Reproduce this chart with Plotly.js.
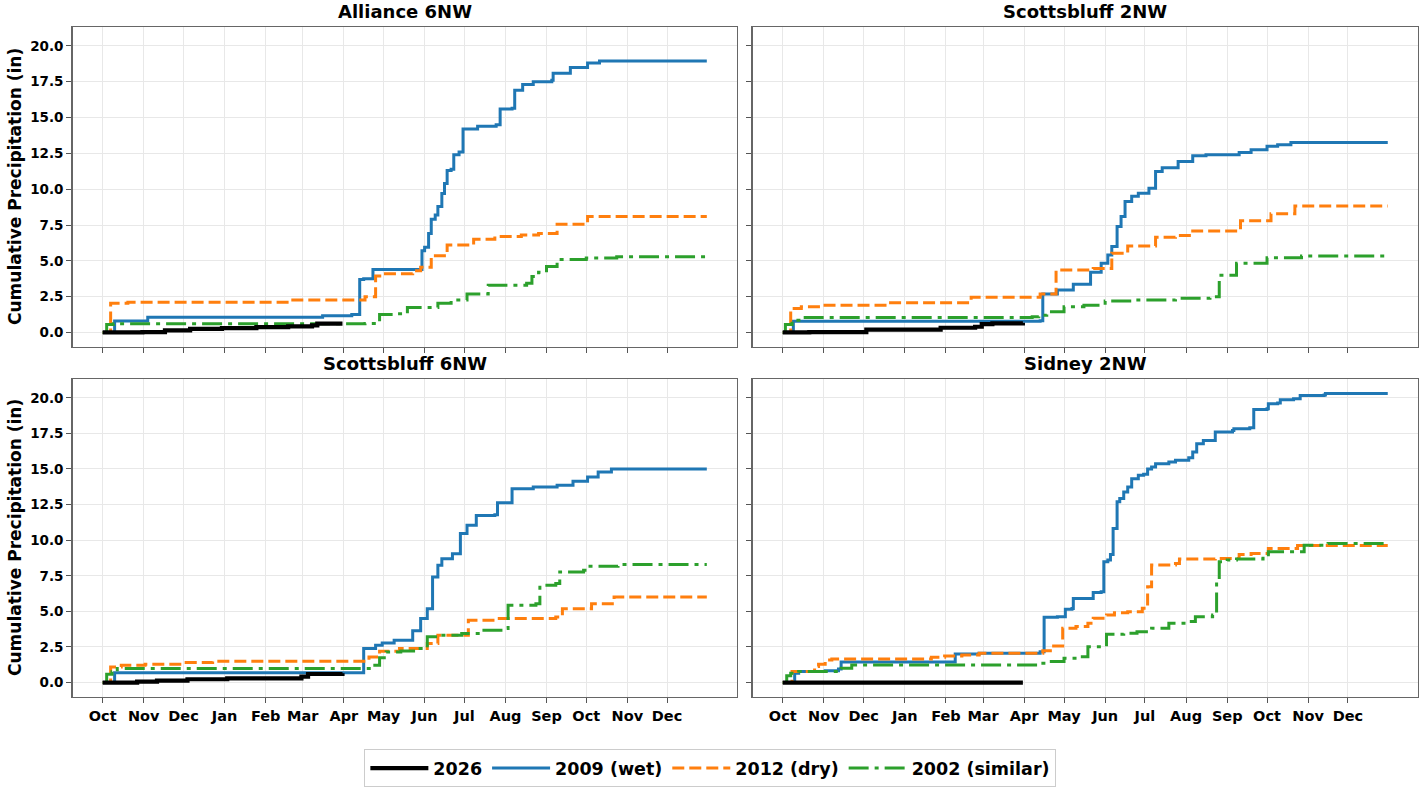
<!DOCTYPE html>
<html>
<head>
<meta charset="utf-8">
<script src="https://cdn.plot.ly/plotly-3.0.1.min.js"></script>
<style>html,body{margin:0;padding:0;background:#fff;}#chart{width:1425px;height:792px;}</style>
</head>
<body>
<div id="chart"></div>
<script>
// ---- Data: [day since Oct 1, cumulative precipitation (in)] ----
const stations = ["Alliance 6NW", "Scottsbluff 2NW", "Scottsbluff 6NW", "Sidney 2NW"];
const seriesNames = ["2026", "2009 (wet)", "2012 (dry)", "2002 (similar)"];
const seasonStart = "2025-10-01";
const monthTicks = 15; // Oct .. Dec of following year

const alliance2026 = [[0,0],[30,0.03],[47,0.15],[66,0.25],[90,0.3],[116,0.37],[140,0.42],[158,0.5],[162,0.62],[181,0.62]];
const alliance2009 = [[0,0],[9,0.8],[34,1.07],[166,1.17],[188,1.26],[194,3.7],[197,3.75],[204,4.4],[240,4.4],[241,5.7],[243,5.95],[246,6.9],[248,7.9],[251,8.2],[253,8.8],[256,9.7],[258,10.4],[260,11.3],[263,11.4],[265,12.4],[269,12.6],[272,14.2],[283,14.4],[297,14.5],[300,15.6],[309,15.65],[311,16.9],[317,17.3],[325,17.5],[339,17.6],[340,18.1],[353,18.5],[366,18.8],[375,18.95],[456,18.95]];
const alliance2012 = [[0,0],[3,0],[6,2.03],[19,2.1],[142,2.26],[198,2.5],[206,3.94],[212,4.1],[234,4.3],[240,4.55],[248,5.36],[260,6.1],[280,6.5],[296,6.7],[316,6.8],[329,6.9],[343,7.55],[366,8.1],[456,8.1]];
const alliance2002 = [[0,0],[3,0.56],[8,0.6],[198,0.62],[209,1.26],[220,1.3],[230,1.75],[253,2.03],[263,2.26],[275,2.68],[291,3.3],[320,3.43],[324,3.9],[329,4.2],[335,4.6],[343,5.1],[365,5.2],[388,5.28],[456,5.28]];

const sb2nw2026 = [[0,0],[20,0.03],[63,0.2],[119,0.33],[145,0.4],[150,0.58],[158,0.63],[181,0.68]];
const sb2nw2009 = [[0,0],[8,0.79],[194,0.82],[196,2.68],[207,2.96],[219,3.36],[232,4.2],[240,4.83],[245,5.4],[248,6.0],[252,7.4],[255,8.1],[258,9.14],[263,9.5],[268,9.72],[276,10.07],[281,11.24],[286,11.5],[298,11.93],[309,12.33],[319,12.4],[344,12.56],[353,12.75],[365,13.0],[373,13.1],[383,13.26],[456,13.26]];
const sb2nw2012 = [[0,0],[4,0],[6,1.68],[14,1.8],[30,1.9],[80,2.07],[142,2.45],[194,2.68],[206,4.36],[234,4.47],[248,5.52],[260,6.04],[281,6.64],[296,6.76],[309,7.09],[345,7.79],[368,8.28],[386,8.83],[456,8.83]];
const sb2nw2002 = [[0,0],[2,0.56],[7,0.86],[14,1.05],[188,1.1],[193,1.2],[199,1.45],[212,1.8],[227,1.9],[243,2.2],[263,2.26],[296,2.38],[322,2.5],[329,4.0],[342,4.83],[365,5.22],[391,5.34],[456,5.34]];

const sb6nw2026 = [[0,0],[26,0.07],[41,0.14],[64,0.23],[94,0.3],[150,0.42],[155,0.6],[181,0.65]];
const sb6nw2009 = [[0,0],[9,0.68],[197,2.39],[206,2.62],[211,2.78],[220,2.97],[234,3.63],[240,4.49],[245,5.19],[249,7.42],[253,8.23],[256,8.7],[264,9.05],[270,10.46],[275,11.04],[282,11.74],[296,11.79],[298,12.63],[309,13.61],[325,13.73],[343,13.85],[355,14.13],[366,14.43],[374,14.78],[384,15.0],[456,15.0]];
const sb6nw2012 = [[0,0],[4,0],[6,1.1],[14,1.22],[32,1.29],[63,1.4],[83,1.5],[201,1.8],[209,2.2],[224,2.39],[245,2.74],[253,3.32],[276,4.37],[296,4.49],[342,4.6],[347,5.19],[369,5.54],[386,6.0],[456,6.0]];
const sb6nw2002 = [[0,0],[3,0.58],[7,0.75],[11,0.98],[194,0.98],[204,1.22],[209,1.75],[214,2.15],[225,2.22],[238,2.39],[245,3.21],[253,3.32],[271,3.44],[286,3.67],[302,3.79],[306,5.43],[327,5.54],[330,6.83],[342,6.95],[345,7.77],[363,7.88],[366,8.16],[389,8.3],[456,8.3]];

const sidney2026 = [[0,0],[181,0]];
const sidney2009 = [[0,0],[9,0.65],[12,0.77],[32,0.82],[42,0.96],[44,1.45],[130,2.0],[148,2.06],[194,2.17],[197,4.58],[207,4.63],[213,5.14],[218,5.2],[219,5.91],[234,6.33],[240,6.38],[242,8.48],[245,8.6],[247,9.0],[249,10.82],[252,12.69],[254,12.92],[257,13.39],[260,13.74],[263,14.32],[268,14.56],[272,14.63],[275,15.0],[278,15.14],[281,15.37],[291,15.49],[296,15.61],[306,15.79],[309,16.2],[312,16.78],[317,17.0],[326,17.6],[339,17.7],[340,17.83],[352,17.9],[355,19.18],[365,19.23],[366,19.58],[373,19.63],[375,19.86],[385,19.93],[390,20.16],[408,20.19],[409,20.3],[456,20.3]];
const sidney2012 = [[0,0],[4,0],[7,0.77],[24,1.12],[27,1.29],[32,1.59],[37,1.66],[112,1.78],[122,1.87],[135,1.94],[148,2.06],[196,2.24],[203,2.57],[211,3.81],[221,3.93],[230,4.16],[234,4.51],[244,4.74],[250,4.9],[260,4.98],[271,5.21],[275,6.73],[278,8.25],[296,8.36],[299,8.67],[326,8.71],[344,9.0],[353,9.07],[366,9.42],[388,9.62],[456,9.62]];
const sidney2002 = [[0,0],[3,0.47],[6,0.65],[12,0.77],[44,1.0],[52,1.24],[194,1.36],[201,1.47],[212,1.7],[224,1.82],[230,2.52],[244,3.39],[257,3.46],[267,3.57],[278,3.81],[291,4.16],[306,4.28],[311,4.63],[324,4.74],[327,7.2],[329,8.48],[335,8.6],[342,8.67],[362,8.83],[366,9.18],[393,9.65],[411,9.77],[455,9.85]];

const stationData = [
  [alliance2026, alliance2009, alliance2012, alliance2002],
  [sb2nw2026, sb2nw2009, sb2nw2012, sb2nw2002],
  [sb6nw2026, sb6nw2009, sb6nw2012, sb6nw2002],
  [sidney2026, sidney2009, sidney2012, sidney2002]
];

// ---- Styles ----
const colors = ["#000000", "#1f77b4", "#ff7f0e", "#2ca02c"];
const widths = [4.2, 3, 3, 3];
const dashes = ["solid", "solid", "12px,5px", "20px,6px,4px,6px"];
const FONT = "DejaVu Sans, Verdana, sans-serif";

function toDate(d) {
  const t = Date.parse(seasonStart + "T00:00:00Z") + d * 86400000;
  return new Date(t).toISOString().slice(0, 10);
}
function monthStarts(n) {
  const out = [];
  const y0 = +seasonStart.slice(0, 4), m0 = +seasonStart.slice(5, 7) - 1;
  for (let i = 0; i < n; i++) {
    const d = new Date(Date.UTC(y0, m0 + i, 1));
    out.push(d.toISOString().slice(0, 10));
  }
  return out;
}
const tickDates = monthStarts(monthTicks);

const traces = [];
const drawOrder = [1, 2, 3, 0];
stationData.forEach((series, si) => {
  const ax = si === 0 ? "" : String(si + 1);
  drawOrder.forEach(k => {
    const pts = series[k];
    traces.push({
      x: pts.map(p => toDate(p[0])),
      y: pts.map(p => p[1]),
      type: "scatter",
      mode: "lines",
      line: {color: colors[k], width: widths[k], dash: dashes[k], shape: "hv"},
      name: seriesNames[k],
      legendrank: k + 1,
      showlegend: si === 0,
      xaxis: "x" + ax,
      yaxis: "y" + ax,
      hoverinfo: "skip"
    });
  });
});

const W = 1425, H = 792;
const colX = [[72.5, 737], [752.5, 1418]];
const rowY = [[27, 347], [379, 697]];
const xRange = ["2025-09-08 05:00", "2027-01-22 19:00"];
const yRange = [-1.015, 21.32];

const layout = {
  width: W, height: H,
  margin: {l: 0, r: 0, t: 0, b: 0},
  paper_bgcolor: "#ffffff",
  plot_bgcolor: "#ffffff",
  font: {family: FONT, color: "#000", size: 13, weight: "bold"},
  showlegend: true,
  legend: {
    orientation: "h",
    x: 0.4985, xanchor: "center",
    y: 0.030, yanchor: "middle",
    bordercolor: "#cccccc", borderwidth: 1,
    bgcolor: "#ffffff",
    font: {family: FONT, size: 17.5, color: "#000", weight: "bold"},
    itemwidth: 58,
    traceorder: "normal"
  },
  annotations: []
};

for (let i = 0; i < 4; i++) {
  const r = Math.floor(i / 2), c = i % 2;
  const ax = i === 0 ? "" : String(i + 1);
  const xd = [colX[c][0] / W, colX[c][1] / W];
  const yd = [(H - rowY[r][1]) / H, (H - rowY[r][0]) / H];
  layout["xaxis" + ax] = {
    type: "date",
    domain: xd,
    anchor: "y" + ax,
    range: xRange,
    tickmode: "array",
    tickvals: tickDates,
    tickformat: "%b",
    showticklabels: r === 1,
    ticks: "outside", ticklen: 5, tickwidth: 1, tickcolor: "#555",
    showgrid: true, gridcolor: "#e8e8e8", gridwidth: 1,
    showline: true, linecolor: "#666", linewidth: 1.3, mirror: true,
    zeroline: false,
    tickfont: {family: FONT, size: 14.5, color: "#000", weight: "bold"},
    fixedrange: true
  };
  layout["yaxis" + ax] = {
    domain: yd,
    anchor: "x" + ax,
    range: yRange,
    tick0: 0, dtick: 2.5,
    tickformat: ".1f",
    showticklabels: c === 0,
    ticks: "outside", ticklen: 5, tickwidth: 1, tickcolor: "#555",
    showgrid: true, gridcolor: "#e8e8e8", gridwidth: 1,
    showline: true, linecolor: "#666", linewidth: 1.3, mirror: true,
    zeroline: false,
    tickfont: {family: FONT, size: 13.5, color: "#000", weight: "bold"},
    fixedrange: true
  };
  layout.annotations.push({
    text: stations[i],
    xref: "paper", yref: "paper",
    x: (xd[0] + xd[1]) / 2, y: (H - rowY[r][0] + 3) / H,
    xanchor: "center", yanchor: "bottom",
    showarrow: false,
    font: {family: FONT, size: 18, color: "#000", weight: "bold"}
  });
  if (c === 0) {
    layout.annotations.push({
      text: "Cumulative Precipitation (in)",
      xref: "paper", yref: "paper",
      x: 15 / W, y: (yd[0] + yd[1]) / 2,
      xanchor: "center", yanchor: "middle",
      textangle: -90,
      showarrow: false,
      font: {family: FONT, size: 17, color: "#000", weight: "bold"}
    });
  }
}

Plotly.newPlot("chart", traces, layout, {staticPlot: true, displayModeBar: false});
</script>
</body>
</html>
